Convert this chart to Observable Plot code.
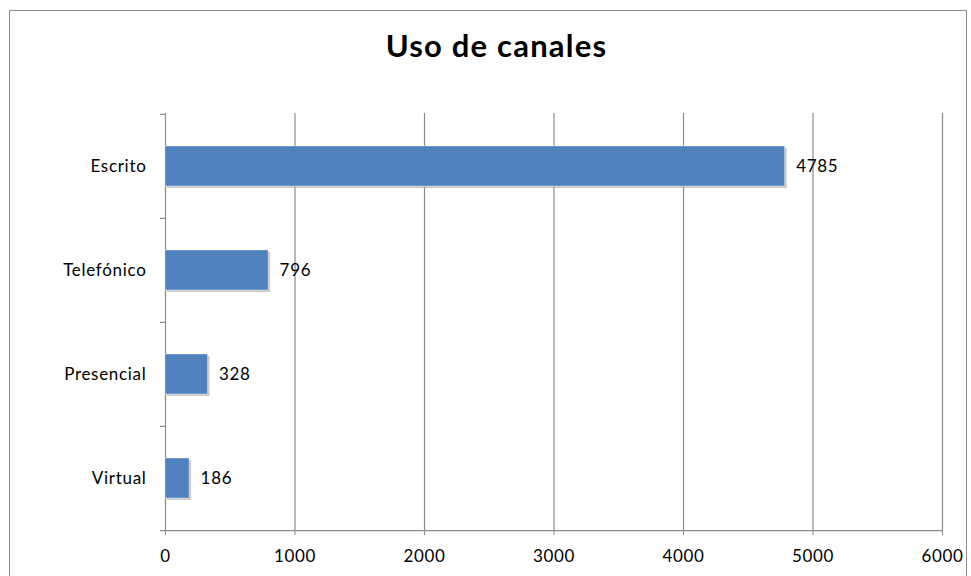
<!DOCTYPE html>
<html>
<head>
<meta charset="utf-8">
<script src="https://cdn.jsdelivr.net/npm/d3@7"></script>
<script src="https://cdn.jsdelivr.net/npm/@observablehq/plot@0.6"></script>
<style>
  html, body { margin: 0; padding: 0; background: #fff; }
  #wrap { position: relative; width: 971px; height: 576px; overflow: hidden; background: #fff; font-family: Lato, "Open Sans", sans-serif; }
  #frame { position: absolute; left: 9px; top: 10px; width: 958px; height: 620px; border: 1px solid #8c8c8c; box-sizing: border-box; }
  #title { position: absolute; left: 0; top: 26px; width: 993px; text-align: center; font: bold 31px Lato, sans-serif; letter-spacing: 1.2px; color: #000; }
  #chart { position: absolute; left: 0; top: 0; }
</style>
</head>
<body>
<div id="wrap">
  <div id="frame"></div>
  <div id="title">Uso de canales</div>
  <div id="chart"></div>
</div>
<script>
const categories = ["Escrito", "Telefónico", "Presencial", "Virtual"];
const values = [4785, 796, 328, 186];
const xTicks = [0, 1000, 2000, 3000, 4000, 5000, 6000];

const data = categories.map((c, i) => ({ canal: c, valor: values[i] }));

const W = 971, H = 576, mTop = 113, mBottom = 46, mLeft = 165, mRight = 29;
const step = (H - mTop - mBottom) / categories.length;
const pInner = 64 / 104;

const chart = Plot.plot({
  width: W,
  height: H,
  marginTop: mTop,
  marginBottom: mBottom,
  marginLeft: mLeft,
  marginRight: mRight,
  style: { background: "transparent", fontFamily: "Lato, sans-serif", fontSize: "17px", letterSpacing: "0.7px", color: "#000", overflow: "visible" },
  x: { domain: [0, 6000], ticks: xTicks, tickFormat: d3.format("d"), label: null, tickSize: 5, tickPadding: 14 },
  y: { domain: categories, paddingInner: pInner, paddingOuter: pInner / 2, align: 0.5, label: null, tickSize: 0, tickPadding: 19 },
  marks: [
    Plot.ruleX(xTicks.slice(1), { stroke: "#8c8c8c", strokeWidth: 1.2 }),
    Plot.ruleX([0], { stroke: "#8c8c8c", strokeWidth: 1.2 }),
    // y tick marks at band boundaries
    Plot.ruleY(categories, { y: d => d, x1: 0, x2: 0, insetLeft: -5, dy: -step / 2, stroke: "#8c8c8c", strokeWidth: 1.2 }),
    // bottom axis line
    Plot.ruleY([categories[categories.length - 1]], { y: d => d, x1: 0, x2: 6000, insetLeft: -5, dy: step / 2, stroke: "#8c8c8c", strokeWidth: 1.2 }),
    // shadow
    Plot.barX(data, { y: "canal", x: "valor", dx: 2, dy: 2, fill: "#b4b4b4", fillOpacity: 0.7 }),
    Plot.barX(data, { y: "canal", x: "valor", fill: "#4f81bd", stroke: "#ffffff", strokeWidth: 0.6, strokeOpacity: 0.6 }),
    Plot.text(data, { y: "canal", x: "valor", text: d => String(d.valor), dx: 11, textAnchor: "start", fill: "#000", fontSize: 17 }),
    Plot.axisX({ ticks: xTicks, tickFormat: d3.format("d"), tickSize: 5, tickPadding: 14, stroke: "#8c8c8c", fill: "#000", fontSize: 17, label: null }),
    Plot.axisY({ tickSize: 0, tickPadding: 19, fill: "#000", fontSize: 17, label: null })
  ]
});
document.getElementById("chart").appendChild(chart);
</script>
</body>
</html>
